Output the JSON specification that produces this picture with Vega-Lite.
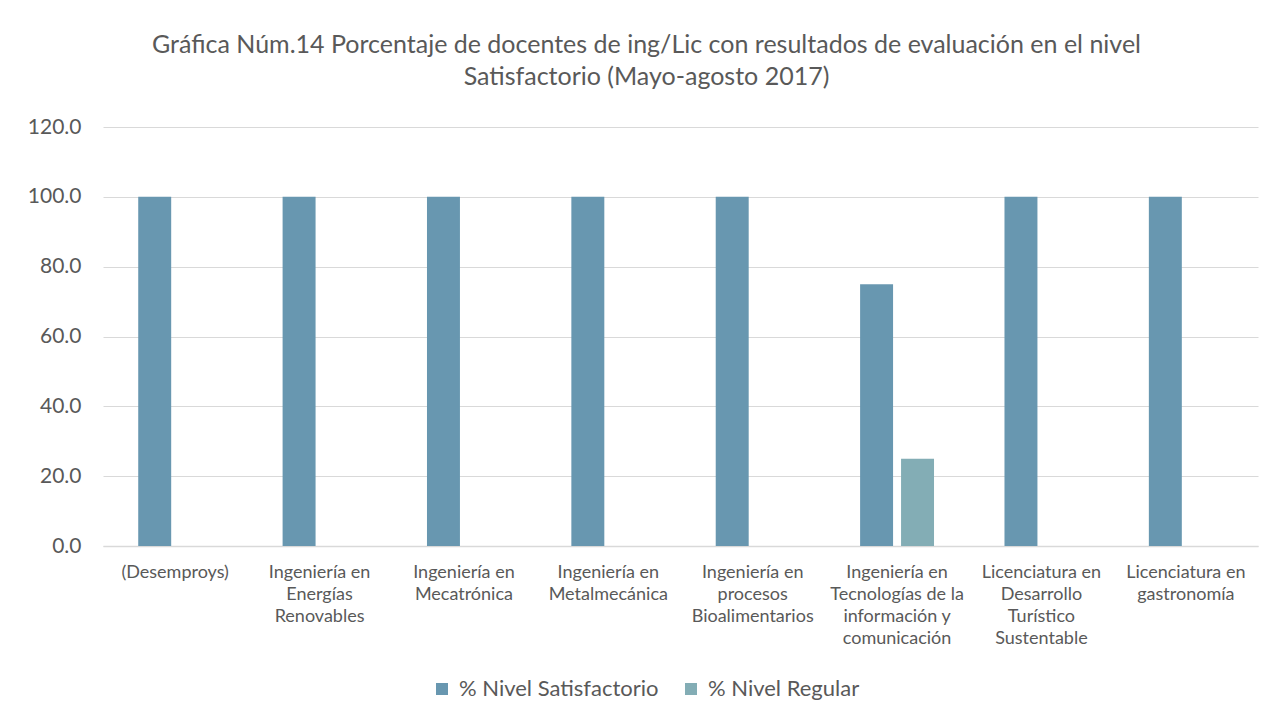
{
  "$schema": "https://vega.github.io/schema/vega-lite/v6.json",
  "autosize": {"type": "none"},
  "width": 1155,
  "height": 419,
  "padding": {"left": 103, "top": 127, "right": 17, "bottom": 173},
  "background": "white",
  "title": {
    "text": ["Gráfica Núm.14 Porcentaje de docentes  de ing/Lic  con resultados de evaluación en el nivel", "Satisfactorio (Mayo-agosto 2017)"],
    "font": "Lato",
    "fontSize": 25,
    "fontWeight": "normal",
    "color": "#595959",
    "lineHeight": 32,
    "anchor": "middle",
    "dx": -34,
    "offset": 26
  },
  "data": {
    "values": [
      {"programa": "(Desemproys)", "serie": "% Nivel Satisfactorio", "valor": 100},
      {"programa": "(Desemproys)", "serie": "% Nivel Regular", "valor": 0},
      {"programa": "Ingeniería en|Energías|Renovables", "serie": "% Nivel Satisfactorio", "valor": 100},
      {"programa": "Ingeniería en|Energías|Renovables", "serie": "% Nivel Regular", "valor": 0},
      {"programa": "Ingeniería en|Mecatrónica", "serie": "% Nivel Satisfactorio", "valor": 100},
      {"programa": "Ingeniería en|Mecatrónica", "serie": "% Nivel Regular", "valor": 0},
      {"programa": "Ingeniería en|Metalmecánica", "serie": "% Nivel Satisfactorio", "valor": 100},
      {"programa": "Ingeniería en|Metalmecánica", "serie": "% Nivel Regular", "valor": 0},
      {"programa": "Ingeniería en|procesos|Bioalimentarios", "serie": "% Nivel Satisfactorio", "valor": 100},
      {"programa": "Ingeniería en|procesos|Bioalimentarios", "serie": "% Nivel Regular", "valor": 0},
      {"programa": "Ingeniería en|Tecnologías de la|información y|comunicación", "serie": "% Nivel Satisfactorio", "valor": 75},
      {"programa": "Ingeniería en|Tecnologías de la|información y|comunicación", "serie": "% Nivel Regular", "valor": 25},
      {"programa": "Licenciatura en|Desarrollo|Turístico|Sustentable", "serie": "% Nivel Satisfactorio", "valor": 100},
      {"programa": "Licenciatura en|Desarrollo|Turístico|Sustentable", "serie": "% Nivel Regular", "valor": 0},
      {"programa": "Licenciatura en|gastronomía", "serie": "% Nivel Satisfactorio", "valor": 100},
      {"programa": "Licenciatura en|gastronomía", "serie": "% Nivel Regular", "valor": 0}
    ]
  },
  "mark": {"type": "bar"},
  "encoding": {
    "x": {
      "field": "programa",
      "type": "nominal",
      "sort": null,
      "scale": {"paddingInner": 0.488, "paddingOuter": 0.244},
      "axis": {
        "title": null,
        "labelAngle": 0,
        "labelExpr": "split(datum.label, '|')",
        "labelFont": "Lato",
        "labelFontSize": 18,
        "labelColor": "#595959",
        "labelLineHeight": 22,
        "labelPadding": 17,
        "labelBaseline": "top",
        "labelLimit": 250,
        "ticks": false,
        "domainColor": "#D9D9D9",
        "domainWidth": 1.5
      }
    },
    "xOffset": {
      "field": "serie",
      "type": "nominal",
      "sort": ["% Nivel Satisfactorio", "% Nivel Regular"],
      "scale": {"paddingInner": 0.195, "paddingOuter": 0}
    },
    "y": {
      "field": "valor",
      "type": "quantitative",
      "scale": {"domain": [0, 120]},
      "axis": {
        "title": null,
        "values": [0, 20, 40, 60, 80, 100, 120],
        "format": ".1f",
        "labelFont": "Lato",
        "labelFontSize": 21,
        "labelColor": "#595959",
        "labelPadding": 22,
        "ticks": false,
        "domain": false,
        "gridColor": "#D9D9D9",
        "gridWidth": 1.2
      }
    },
    "color": {
      "field": "serie",
      "type": "nominal",
      "sort": ["% Nivel Satisfactorio", "% Nivel Regular"],
      "scale": {"domain": ["% Nivel Satisfactorio", "% Nivel Regular"], "range": ["#6897B0", "#83ADB5"]},
      "legend": {
        "title": null,
        "orient": "none",
        "direction": "horizontal",
        "legendX": 328,
        "legendY": 551,
        "symbolType": "square",
        "symbolSize": 144,
        "labelFont": "Lato",
        "labelFontSize": 22,
        "labelColor": "#595959",
        "labelLimit": 400,
        "columnPadding": 21,
        "labelOffset": 6
      }
    }
  },
  "config": {"view": {"stroke": null}}
}
